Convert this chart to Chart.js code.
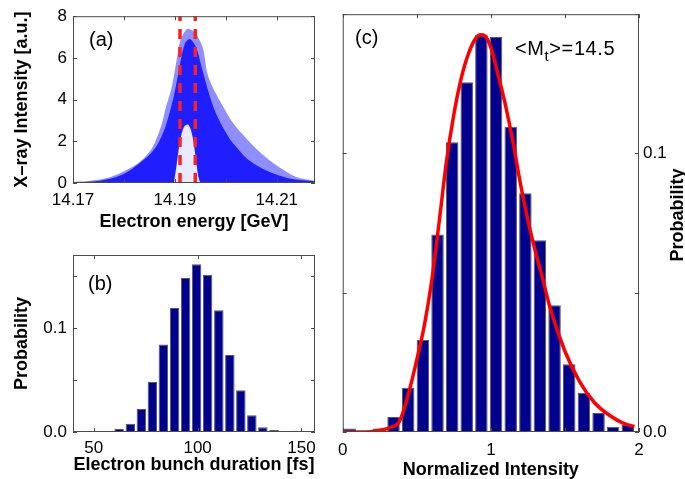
<!DOCTYPE html>
<html><head><meta charset="utf-8">
<script src="https://cdn.jsdelivr.net/npm/chart.js@4/dist/chart.umd.min.js"></script>
<style>
body{margin:0;background:#fff;width:685px;height:479px;position:relative;overflow:hidden;font-family:"Liberation Sans",Arial,sans-serif;}
.cv{position:absolute;}
.lbl{position:absolute;font-size:20px;line-height:20px;color:#000;white-space:nowrap;}
.rt{position:absolute;font-size:18px;font-weight:bold;line-height:20px;width:120px;height:20px;text-align:center;transform:rotate(-90deg);}
</style></head><body>
<div class="cv" style="left:0;top:0"><canvas id="ca" width="330" height="235"></canvas></div>
<div class="cv" style="left:0;top:235px"><canvas id="cb" width="330" height="244"></canvas></div>
<div class="cv" style="left:330px;top:0"><canvas id="cc" width="355" height="479"></canvas></div>
<div class="lbl" style="left:89px;top:29px">(a)</div>
<div class="lbl" style="left:88px;top:273px">(b)</div>
<div class="lbl" style="left:355px;top:27px">(c)</div>
<div class="lbl" style="left:515px;top:38px;letter-spacing:0.6px">&lt;M<sub style="font-size:15px;vertical-align:-6px">t</sub>&gt;=14.5</div>
<div class="rt" style="left:617px;top:205px">Probability</div>
<script>
// ---------- Panel (a): X-ray intensity vs electron energy (cloud envelopes) ----------
const aOuterEnergy = [14.170,14.1725,14.175,14.1775,14.1795,14.1828,14.1847,14.186,14.1874,14.1883,14.1893,14.1903,14.191,14.1923,14.1935,14.1942,14.1955,14.1964,14.1977,14.1994,14.2013,14.204,14.2072,14.2105,14.2138,14.2175];
const aOuterIntensity = [0.05,0.08,0.15,0.3,0.5,0.95,1.4,1.9,2.8,3.7,4.5,5.84,6.77,7.38,7.3,7.15,6.46,5.23,4.45,3.69,2.91,2.14,1.37,0.75,0.29,0.1];
const aCoreEnergy = [14.170,14.175,14.178,14.1805,14.1828,14.185,14.1867,14.188,14.189,14.190,14.191,14.192,14.193,14.1942,14.1952,14.1961,14.1972,14.1985,14.2007,14.2025,14.204,14.206,14.2079,14.210,14.2125,14.2175];
const aCoreIntensity = [0.03,0.1,0.25,0.5,0.9,1.35,1.9,2.6,3.4,4.4,5.7,6.7,6.9,6.5,5.6,4.8,3.9,3.1,2.14,1.6,1.2,0.85,0.6,0.4,0.22,0.08];
const aGapEnergy = [14.1898,14.1903,14.1910,14.1918,14.1926,14.1934,14.1941,14.1946,14.1950];
const aGapIntensity = [0,0.8,2.0,2.7,2.8,2.3,1.2,0.3,0];
const aCutEnergies = [14.191,14.194];
const aCutIntensity = [0,8];
const aXTicks = [14.17,14.18,14.19,14.20,14.21];
const aXLabels = ['14.17','','14.19','','14.21'];
const aYTicks = [0,2,4,6,8];
const aYLabels = ['0','2','4','6','8'];

// ---------- Panel (b): electron bunch duration histogram ----------
const bDuration = [56.9,62.2,67.6,72.9,78.2,83.5,88.9,94.2,99.5,104.8,110.2,115.5,120.8,126.1,131.4,136.8,142.1,147.4];
const bProb = [0.001,0.003,0.008,0.022,0.048,0.084,0.119,0.148,0.161,0.151,0.117,0.074,0.040,0.016,0.0045,0.002,0.001,0.0013];
const bXTicks = [50,100,150];
const bXLabels = ['50','100','150'];
const bYTicks = [0,0.05,0.1,0.15];
const bYLabels = ['0.0','','0.1',''];

// ---------- Panel (c): normalized intensity histogram + fit ----------
const cIntensity = [0.047,0.146,0.245,0.343,0.442,0.541,0.640,0.739,0.837,0.936,1.035,1.134,1.233,1.331,1.430,1.529,1.628,1.727,1.825,1.924];
const cProb = [0.0013,0,0.0013,0.0054,0.0159,0.0331,0.0709,0.104,0.1256,0.1426,0.1418,0.1096,0.0857,0.0688,0.0455,0.0243,0.0141,0.0068,0.0019,0.0026];
const cFitX = [0,0.1,0.2,0.285,0.33,0.373,0.4,0.45,0.5,0.55,0.6,0.65,0.7,0.75,0.8,0.85,0.9,0.93,0.96,1.0,1.05,1.1,1.15,1.2,1.25,1.3,1.35,1.4,1.5,1.6,1.7,1.8,1.9,1.97];
const cFitY = [0,0,0.0002,0.001,0.0018,0.003,0.006,0.015,0.026,0.038,0.054,0.075,0.097,0.114,0.127,0.136,0.1415,0.1426,0.1422,0.138,0.128,0.117,0.104,0.089,0.076,0.065,0.055,0.0445,0.029,0.018,0.0105,0.006,0.003,0.002];
const cXTicks = [0,0.5,1,1.5,2];
const cXLabels = ['0','','1','','2'];
const cYTicks = [0,0.05,0.1,0.15];
const cYLabels = ['0.0','','0.1',''];

const FONT = '"Liberation Sans", Arial, sans-serif';
const pts = (xs, ys) => xs.map((x, i) => ({x: x, y: ys[i]}));

const frame = {
  id: 'frame',
  afterDatasetsDraw(chart) {
    const {ctx, chartArea: a, scales} = chart;
    ctx.save();
    ctx.strokeStyle = '#4a4a4a';
    ctx.lineWidth = 1;
    ctx.strokeRect(a.left + 0.5, a.top + 0.5, a.right - a.left - 1, a.bottom - a.top - 1);
    const L = 4;
    ctx.beginPath();
    scales.x.ticks.forEach(t => {
      const p = Math.round(scales.x.getPixelForValue(t.value)) + 0.5;
      ctx.moveTo(p, a.bottom); ctx.lineTo(p, a.bottom - L);
      ctx.moveTo(p, a.top); ctx.lineTo(p, a.top + L);
    });
    scales.y.ticks.forEach(t => {
      const p = Math.round(scales.y.getPixelForValue(t.value)) + 0.5;
      ctx.moveTo(a.left, p); ctx.lineTo(a.left + L, p);
      ctx.moveTo(a.right, p); ctx.lineTo(a.right - L, p);
    });
    ctx.stroke();
    ctx.restore();
  }
};

function axis(values, labels, pad, extra) {
  return Object.assign({
    type: 'linear',
    grid: {display: false, drawTicks: false},
    border: {display: false},
    afterBuildTicks: s => { s.ticks = values.map(v => ({value: v})); },
    ticks: {
      autoSkip: false, maxRotation: 0, minRotation: 0, color: '#000', padding: pad,
      font: {family: FONT, size: 17},
      callback: (v, i) => labels[i]
    }
  }, extra);
}
function title(text, pad) {
  return {display: true, text: text, color: '#000', padding: pad, font: {family: FONT, size: 18, weight: 'bold'}};
}
const base = {
  responsive: false, animation: false,
  plugins: {legend: {display: false}, tooltip: {enabled: false}}
};

// Panel (a)
const lineDs = (data, color, order) => ({data, showLine: true, borderColor: color, borderWidth: 3.5, borderDash: [10, 8], pointRadius: 0, order});
new Chart(document.getElementById('ca'), {
  type: 'scatter',
  data: {datasets: [
    lineDs(pts([aCutEnergies[0], aCutEnergies[0]], aCutIntensity), '#ff1f1f', 0),
    lineDs(pts([aCutEnergies[1], aCutEnergies[1]], aCutIntensity), '#ff1f1f', 0),
    {data: pts(aGapEnergy, aGapIntensity), showLine: true, fill: 'origin', backgroundColor: 'rgba(255,255,255,0.9)', borderColor: 'transparent', borderWidth: 1, pointRadius: 0, tension: 0.35, order: 1},
    {data: pts(aCoreEnergy, aCoreIntensity), showLine: true, fill: 'origin', backgroundColor: 'rgb(30,30,255)', borderColor: 'transparent', borderWidth: 1, pointRadius: 0, tension: 0.3, order: 2},
    {data: pts(aOuterEnergy, aOuterIntensity), showLine: true, fill: 'origin', backgroundColor: 'rgba(50,50,255,0.55)', borderColor: 'transparent', borderWidth: 1, pointRadius: 0, tension: 0.3, order: 3}
  ]},
  options: Object.assign({}, base, {
    layout: {padding: {left: 0, right: 15, top: 10, bottom: 0}},
    scales: {
      x: axis(aXTicks, aXLabels, 7, {min: 14.17, max: 14.2175, title: title('Electron energy [GeV]', {top: 0, bottom: 2}), afterFit: s => { s.height = 52; }}),
      y: axis(aYTicks, aYLabels, 6, {min: 0, max: 8, title: title('X\u2013ray Intensity [a.u.]', {top: 11, bottom: 0}), afterFit: s => { s.width = 73; }})
    }
  }),
  plugins: [frame]
});

// Panel (b)
new Chart(document.getElementById('cb'), {
  type: 'bar',
  data: {datasets: [
    {data: pts(bDuration, bProb), backgroundColor: '#00008F', borderColor: '#585858', borderWidth: 1, categoryPercentage: 0.86, barPercentage: 1}
  ]},
  options: Object.assign({}, base, {
    layout: {padding: {left: 0, right: 15, top: 20, bottom: 0}},
    scales: {
      x: axis(bXTicks, bXLabels, 6.5, {min: 40, max: 156.5, offset: false, title: title('Electron bunch duration [fs]', {top: 0, bottom: 3.5}), afterFit: s => { s.height = 47; }}),
      y: axis(bYTicks, bYLabels, 6, {min: 0, max: 0.17, title: title('Probability', {top: 11, bottom: 0}), afterFit: s => { s.width = 73; }})
    }
  }),
  plugins: [frame]
});

// Panel (c)
new Chart(document.getElementById('cc'), {
  type: 'bar',
  data: {datasets: [
    {type: 'line', data: pts(cFitX, cFitY), borderColor: '#ff0000', borderWidth: 3.5, pointRadius: 0, tension: 0.4, cubicInterpolationMode: 'monotone', order: 0},
    {type: 'bar', data: pts(cIntensity, cProb), backgroundColor: '#00008F', borderColor: '#585858', borderWidth: 1, categoryPercentage: 0.86, barPercentage: 1, order: 1}
  ]},
  options: Object.assign({}, base, {
    layout: {padding: {left: 9, right: 0, top: 13, bottom: 0}},
    scales: {
      x: axis(cXTicks, cXLabels, 8, {min: 0, max: 2, offset: false, title: title('Normalized Intensity', {top: 0, bottom: -2}), afterFit: s => { s.height = 47; }}),
      y: axis(cYTicks, cYLabels, 4, {min: 0, max: 0.15, position: 'right', afterFit: s => { s.width = 46; }})
    }
  }),
  plugins: [frame]
});
</script>
</body></html>
